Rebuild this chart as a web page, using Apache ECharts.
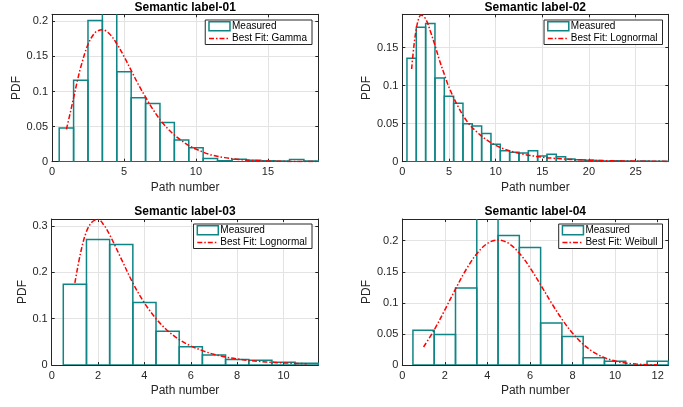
<!DOCTYPE html>
<html>
<head>
<meta charset="utf-8">
<script src="https://cdn.jsdelivr.net/npm/echarts@6/dist/echarts.min.js"></script>
<style>
html,body{margin:0;padding:0;background:#fff;}
#chart{width:683px;height:407px;}
</style>
</head>
<body>
<div id="chart"></div>
<script>
// ---------- DATA ----------
const titles = ['Semantic label-01', 'Semantic label-02', 'Semantic label-03', 'Semantic label-04'];
const fitNames = ['Best Fit: Gamma', 'Best Fit: Lognormal', 'Best Fit: Lognormal', 'Best Fit: Weibull'];
const binWidth = 1;

// Panel 1
const bins1 = [1,2,3,4,5,6,7,8,9,10,11,12,13,14,15,16,17,18];
const meas1 = [0.048,0.116,0.201,0.215,0.128,0.091,0.083,0.056,0.031,0.020,0.0045,0.0015,0.0035,0.002,0.0015,0.001,0.003,0.001];
const fitX1 = [1,1.25,1.5,1.75,2,2.5,3,3.5,4,4.5,5,5.5,6,6.5,7,7.5,8,8.5,9,9.5,10,11,12,13,14,15,16,17,18.5];
const fitY1 = [0.046,0.068,0.091,0.114,0.135,0.167,0.184,0.188,0.182,0.168,0.150,0.130,0.110,0.092,0.075,0.060,0.048,0.038,0.030,0.023,0.018,0.010,0.0058,0.0032,0.0017,0.0009,0.0005,0.0003,0.0001];

// Panel 2
const bins2 = [1,2,3,4,5,6,7,8,9,10,11,12,13,14,15,16,17,18,19,20,21,22,23,24,25,26,27,28];
const meas2 = [0.136,0.177,0.182,0.110,0.086,0.077,0.050,0.047,0.037,0.023,0.0145,0.0125,0.0115,0.0145,0.0075,0.0097,0.0066,0.0035,0.0026,0.002,0.0015,0.001,0.0012,0.0008,0.0005,0.0008,0.0005,0.0005];
const fitX2 = [1,1.25,1.5,1.75,2,2.5,3,3.5,4,4.5,5,6,7,8,9,10,11,12,13,14,15,16,18,20,22,25,28.5];
const fitY2 = [0.122,0.153,0.175,0.188,0.193,0.188,0.172,0.153,0.133,0.115,0.098,0.072,0.052,0.039,0.029,0.0215,0.0163,0.0125,0.0097,0.0076,0.0059,0.0047,0.0030,0.0020,0.0013,0.0008,0.0004];

// Panel 3
const bins3 = [1,2,3,4,5,6,7,8,9,10,11];
const meas3 = [0.174,0.271,0.260,0.135,0.073,0.0395,0.0215,0.012,0.010,0.0057,0.0036];
const fitX3 = [1,1.25,1.5,1.75,2,2.25,2.5,3,3.5,4,4.5,5,5.5,6,6.5,7,7.5,8,8.5,9,9.5,10,10.5,11];
const fitY3 = [0.177,0.243,0.288,0.309,0.314,0.302,0.281,0.229,0.177,0.134,0.100,0.074,0.055,0.041,0.031,0.023,0.0172,0.013,0.0099,0.0076,0.0058,0.0045,0.0035,0.0027];

// Panel 4
const bins4 = [1,2,3,4,5,6,7,8,9,10,11,12];
const meas4 = [0.0558,0.049,0.124,0.240,0.2086,0.189,0.0676,0.046,0.0118,0.0059,0,0.0059];
const fitX4 = [1,1.5,2,2.5,3,3.5,4,4.5,5,5.5,6,6.5,7,7.5,8,8.5,9,9.5,10,10.5,11,11.5,12];
const fitY4 = [0.029,0.0565,0.0887,0.1223,0.1537,0.1791,0.1957,0.2013,0.1957,0.180,0.1567,0.129,0.1004,0.0738,0.0512,0.0333,0.0205,0.0118,0.0064,0.0032,0.0015,0.0006,0.0002];

// Axis ranges / ticks
const xMax = [18.5, 28.5, 11.5, 12.5];
const xStep = [5, 5, 2, 2];
const yMax = [0.21, 0.194, 0.315, 0.235];
const yStep = [0.05, 0.05, 0.1, 0.05];

// ---------- LAYOUT / STYLE ----------
const FONT = '"Liberation Sans", Arial, Helvetica, sans-serif';
const AX = '#262626';
const GRIDC = '#e3e3e3';
const TEAL = '#0f8585';
const RED = '#ff0000';

const grids = [
  {left: 52, top: 14.3, width: 266.3, height: 147.4},
  {left: 402.3, top: 14.3, width: 266, height: 147.4},
  {left: 51.7, top: 219, width: 266.6, height: 146},
  {left: 402.3, top: 219, width: 266, height: 146}
];

const panels = [
  {bins: bins1, meas: meas1, fx: fitX1, fy: fitY1},
  {bins: bins2, meas: meas2, fx: fitX2, fy: fitY2},
  {bins: bins3, meas: meas3, fx: fitX3, fy: fitY3},
  {bins: bins4, meas: meas4, fx: fitX4, fy: fitY4}
];

const xAxis = [], yAxis = [], series = [], title = [], legend = [];

panels.forEach((p, i) => {
  const g = grids[i];
  xAxis.push({
    type: 'value', gridIndex: i, position: 'bottom', min: 0, max: xMax[i], interval: xStep[i],
    name: 'Path number', nameLocation: 'middle', nameGap: 20,
    nameTextStyle: {fontFamily: FONT, fontSize: 12, color: AX},
    axisLine: {show: true, onZero: false, lineStyle: {color: AX, width: 1}},
    axisTick: {show: true, inside: true, length: 3, lineStyle: {color: AX}},
    axisLabel: {fontFamily: FONT, fontSize: 11, color: AX, margin: 5, showMaxLabel: false},
    splitLine: {show: true, lineStyle: {color: GRIDC, width: 1}}
  });
  xAxis.push({
    type: 'value', gridIndex: i, position: 'top', min: 0, max: xMax[i], interval: xStep[i],
    axisLine: {show: true, onZero: false, lineStyle: {color: AX, width: 1}},
    axisTick: {show: true, inside: true, length: 3, lineStyle: {color: AX}},
    axisLabel: {show: false}, splitLine: {show: false}
  });
  yAxis.push({
    type: 'value', gridIndex: i, position: 'left', min: 0, max: yMax[i], interval: yStep[i],
    name: 'PDF', nameLocation: 'middle', nameGap: 23.5,
    nameTextStyle: {fontFamily: FONT, fontSize: 12, color: AX},
    axisLine: {show: true, onZero: false, lineStyle: {color: AX, width: 1}},
    axisTick: {show: true, inside: true, length: 3, lineStyle: {color: AX}},
    axisLabel: {fontFamily: FONT, fontSize: 11, color: AX, margin: 4, showMaxLabel: false},
    splitLine: {show: true, lineStyle: {color: GRIDC, width: 1}}
  });
  yAxis.push({
    type: 'value', gridIndex: i, position: 'right', min: 0, max: yMax[i], interval: yStep[i],
    axisLine: {show: true, onZero: false, lineStyle: {color: AX, width: 1}},
    axisTick: {show: true, inside: true, length: 3, lineStyle: {color: AX}},
    axisLabel: {show: false}, splitLine: {show: false}
  });

  title.push({
    text: titles[i], left: g.left + g.width / 2, textAlign: 'center',
    top: i < 2 ? 2 : 206, padding: 0,
    textStyle: {fontFamily: FONT, fontSize: 12, fontWeight: 'bold', color: '#000'}
  });

  const isLeft = (i % 2 === 0);
  legend.push({
    orient: 'vertical',
    right: isLeft ? 371 : 20.5,
    top: i < 2 ? 20 : 224,
    itemWidth: 21, itemHeight: 9, itemGap: 2,
    padding: [1, 5, 1, 3],
    backgroundColor: '#fff', borderColor: AX, borderWidth: 1,
    selectedMode: false,
    textStyle: {fontFamily: FONT, fontSize: 10, color: '#000', padding: [0, 0, 0, -3]},
    data: [
      {name: 'Measured', icon: 'rect', itemStyle: {color: '#ffffff', borderColor: TEAL, borderWidth: 1.5}},
      {name: fitNames[i], itemStyle: {color: 'rgba(0,0,0,0)', borderColor: 'rgba(0,0,0,0)', borderWidth: 0, opacity: 0},
       lineStyle: {color: RED, width: 1.5, type: [5, 2, 1.5, 2], opacity: 1}}
    ]
  });

  series.push({
    type: 'custom', name: 'Measured', xAxisIndex: 2 * i, yAxisIndex: 2 * i, clip: true, z: 2,
    itemStyle: {color: '#ffffff', borderColor: TEAL, borderWidth: 1.5},
    data: p.bins.map((b, k) => [b, p.meas[k]]),
    renderItem: function (params, api) {
      const c = api.value(0), v = api.value(1);
      const p0 = api.coord([c - binWidth / 2, v]);
      const p1 = api.coord([c + binWidth / 2, 0]);
      return {
        type: 'rect',
        shape: {x: p0[0], y: p0[1], width: p1[0] - p0[0], height: p1[1] - p0[1]},
        style: {fill: 'none', stroke: TEAL, lineWidth: 1.5}
      };
    }
  });
  series.push({
    type: 'line', name: fitNames[i], xAxisIndex: 2 * i, yAxisIndex: 2 * i, z: 5,
    smooth: 0.35, symbol: 'none', showSymbol: false, clip: true,
    lineStyle: {color: RED, width: 1.5, type: [5, 2, 1.5, 2]},
    itemStyle: {color: RED},
    data: p.fx.map((x, k) => [x, p.fy[k]])
  });
});

const chart = echarts.init(document.getElementById('chart'), null, {renderer: 'canvas'});
chart.setOption({
  animation: false,
  backgroundColor: '#ffffff',
  grid: grids.map(g => Object.assign({containLabel: false}, g)),
  title, legend, xAxis, yAxis, series
});
</script>
</body>
</html>
